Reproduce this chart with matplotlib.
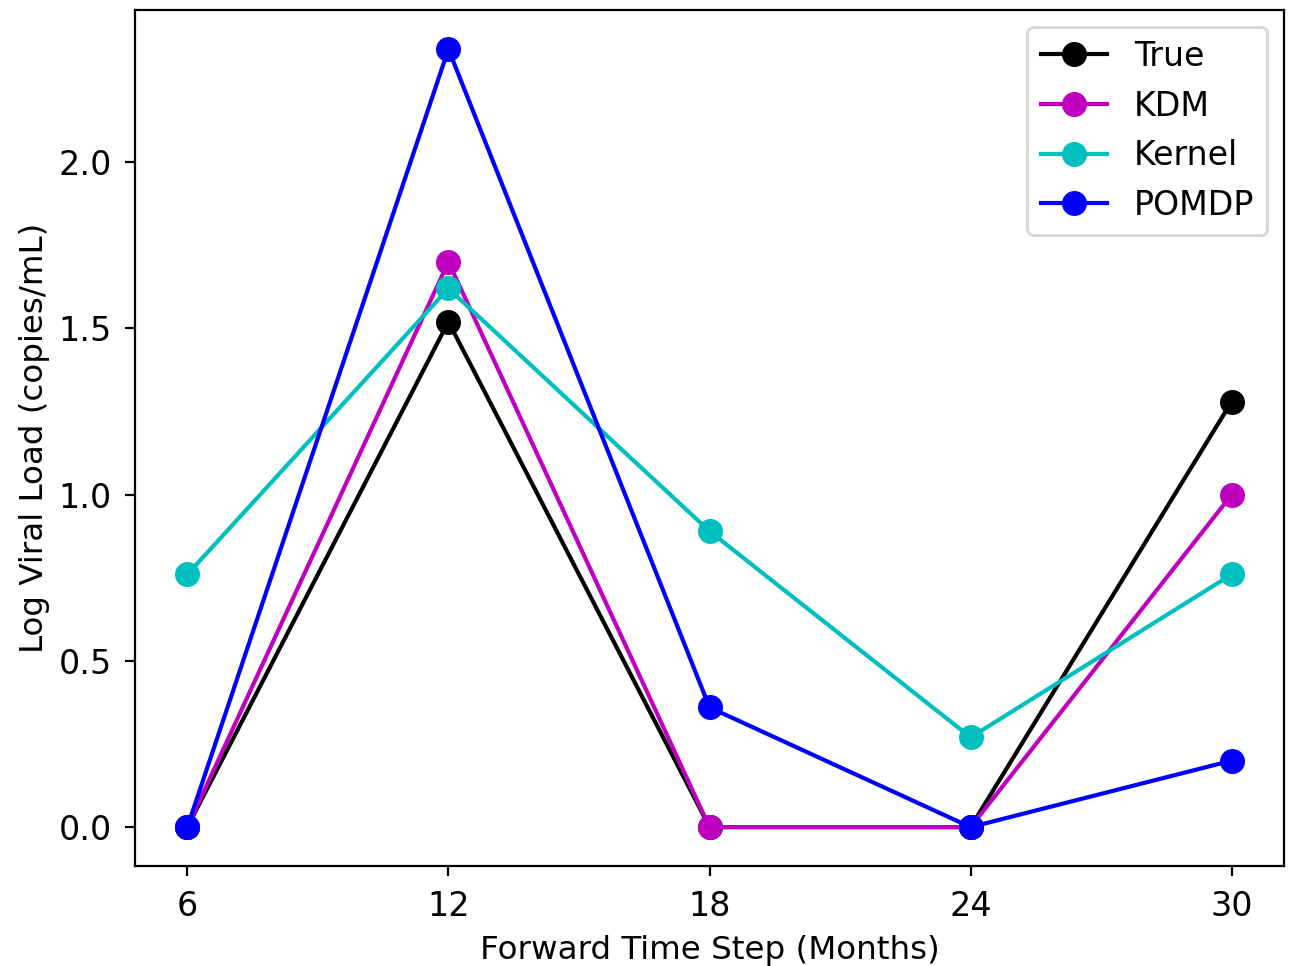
import numpy as np
import matplotlib.pyplot as plt

months = [6, 12, 18, 24, 30]
true_vl = [0.0, 1.52, 0.0, 0.0, 1.28]
kdm_vl = [0.0, 1.70, 0.0, 0.0, 1.0]
kernel_vl = [0.76, 1.62, 0.89, 0.27, 0.76]
pomdp_vl = [0.0, 2.34, 0.36, 0.0, 0.20]

fig = plt.figure(figsize=(6.465, 4.83), dpi=200)
ax = fig.add_axes([0.1045, 0.1035, 0.8885, 0.886])
ax.plot(months, true_vl, 'o-', color='k', markersize=8, label='True')
ax.plot(months, kdm_vl, 'o-', color='m', markersize=8, label='KDM')
ax.plot(months, kernel_vl, 'o-', color='c', markersize=8, label='Kernel')
ax.plot(months, pomdp_vl, 'o-', color='b', markersize=8, label='POMDP')
ax.set_xticks(months)
ax.tick_params(labelsize=12, pad=5)
ax.set_xlabel('Forward Time Step (Months)', fontsize=11.7, labelpad=4.5)
ax.set_ylabel('Log Viral Load (copies/mL)', fontsize=11.7, labelpad=3)
ax.legend(loc='upper right', fontsize=11.95)
fig.savefig('out.png', dpi=200)
